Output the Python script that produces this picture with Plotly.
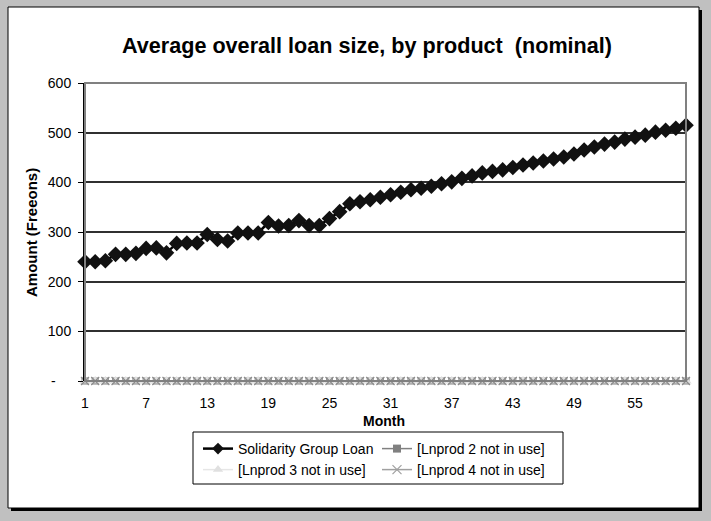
import plotly.graph_objects as go

# Month index and average loan size per product (Freeons)
months = list(range(1, 61))
solidarity_group_loan = [
    240, 240, 242, 255, 255, 257, 267, 268, 258, 277,
    278, 278, 295, 285, 282, 298, 298, 298, 319, 312,
    313, 323, 313, 313, 327, 341, 357, 361, 365, 370,
    375, 380, 385, 388, 392, 397, 401, 408, 413, 419,
    422, 425, 430, 435, 439, 443, 447, 451, 457, 465,
    471, 477, 481, 487, 491, 495, 501, 505, 509, 515,
]
lnprod_2 = [0] * 60
lnprod_3 = [0] * 60
lnprod_4 = [0] * 60

series_names = [
    "Solidarity Group Loan",
    "[Lnprod 2 not in use]",
    "[Lnprod 3 not in use]",
    "[Lnprod 4 not in use]",
]
x_tick_vals = [1, 7, 13, 19, 25, 31, 37, 43, 49, 55]
y_tick_vals = [0, 100, 200, 300, 400, 500, 600]
NB = "\u00a0"
y_tick_text = ["-" + NB * 4, "100", "200", "300", "400", "500", "600"]

W, H = 711, 521
L, R, T, B = 85, 25, 83, 140
PW, PH = W - L - R, H - T - B


def px_x(p):
    return (p - L) / PW


def px_y(p):
    return (H - B - p) / PH


FONT = "Liberation Sans, Arial, sans-serif"

styles = [
    dict(line=dict(color="#000000", width=2.5),
         marker=dict(symbol="diamond", size=12, color="#111111")),
    dict(line=dict(color="#808080", width=1.5),
         marker=dict(symbol="square", size=7, color="#808080")),
    dict(line=dict(color="#e6e6e6", width=1.5),
         marker=dict(symbol="triangle-up", size=10, color="#e0e0e0")),
    dict(line=dict(color="#a0a0a0", width=1.5),
         marker=dict(symbol="x-thin", size=8, color="#8c8c8c",
                     line=dict(color="#8c8c8c", width=1.2))),
]
legend_markers = [
    dict(symbol="diamond", size=9, color="#111111"),
    dict(symbol="square", size=8, color="#808080"),
    dict(symbol="triangle-up", size=9, color="#e0e0e0"),
    dict(symbol="x-thin", size=9, color="#a0a0a0",
         line=dict(color="#a0a0a0", width=1.2)),
]
series_values = [solidarity_group_loan, lnprod_2, lnprod_3, lnprod_4]

fig = go.Figure()

for name, vals, st in zip(series_names, series_values, styles):
    fig.add_trace(go.Scatter(
        x=months, y=vals, name=name, mode="lines+markers",
        cliponaxis=False, showlegend=False, **st,
    ))

# legend entries: two rows of two
for i, (name, st, mk) in enumerate(zip(series_names, styles, legend_markers)):
    fig.add_trace(go.Scatter(
        x=[None], y=[None], name=name, mode="lines+markers",
        line=st["line"], marker=mk,
        legend="legend" if i < 2 else "legend2",
    ))

shapes = [
    # white chart sheet on grey frame, with drop shadow
    dict(type="rect", xref="paper", yref="paper", layer="below",
         x0=px_x(11), x1=px_x(702), y0=px_y(511), y1=px_y(10),
         fillcolor="#000000", line=dict(width=0)),
    dict(type="rect", xref="paper", yref="paper", layer="below",
         x0=px_x(8), x1=px_x(699), y0=px_y(508), y1=px_y(7),
         fillcolor="#ffffff", line=dict(color="#000000", width=1)),
    # plot area border
    dict(type="rect", xref="paper", yref="paper", layer="above",
         x0=0, x1=1, y0=0, y1=1,
         fillcolor="rgba(0,0,0,0)", line=dict(color="#808080", width=2)),
    # legend box
    dict(type="rect", xref="paper", yref="paper", layer="below",
         x0=px_x(193), x1=px_x(563), y0=px_y(484), y1=px_y(432),
         fillcolor="#ffffff", line=dict(color="#000000", width=1)),
]

annotations = [
    dict(text="<b>Average overall loan size, by product  (nominal)</b>",
         xref="paper", yref="paper", x=px_x(367), y=px_y(45),
         xanchor="center", yanchor="middle", showarrow=False,
         font=dict(family=FONT, size=21.6, color="#000000")),
    dict(text="<b>Month</b>", xref="paper", yref="paper",
         x=px_x(384), y=px_y(421), xanchor="center", yanchor="middle",
         showarrow=False, font=dict(family=FONT, size=14, color="#000000")),
    dict(text="<b>Amount (Freeons)</b>", xref="paper", yref="paper",
         x=px_x(31), y=px_y(233), xanchor="center", yanchor="middle",
         textangle=-90, showarrow=False,
         font=dict(family=FONT, size=15, color="#000000")),
]

legend_common = dict(
    orientation="h", xanchor="left", yanchor="top",
    bgcolor="rgba(0,0,0,0)", borderwidth=0,
    entrywidth=134, entrywidthmode="pixels",
    font=dict(family=FONT, size=14, color="#000000"),
    itemwidth=30,
)

fig.update_layout(
    width=W, height=H,
    margin=dict(l=L, r=R, t=T, b=B),
    paper_bgcolor="#c0c0c0",
    plot_bgcolor="#c0c0c0",
    font=dict(family=FONT, size=14, color="#000000"),
    shapes=shapes,
    annotations=annotations,
    legend=dict(x=px_x(198), y=px_y(433), **legend_common),
    legend2=dict(x=px_x(198), y=px_y(454), **legend_common),
)

fig.update_xaxes(
    range=[1, 60], tickmode="array", tickvals=x_tick_vals,
    showgrid=False, zeroline=False, showline=False,
    ticks="", ticklabelstandoff=12,
    tickfont=dict(family=FONT, size=14, color="#000000"),
)
fig.update_yaxes(
    range=[0, 600], tickmode="array", tickvals=y_tick_vals,
    ticktext=y_tick_text,
    showgrid=True, gridcolor="#303030", gridwidth=1.5,
    zeroline=False, showline=True, linecolor="#000000", linewidth=2,
    ticks="outside", ticklen=5, tickcolor="#000000",
    ticklabelstandoff=4,
    tickfont=dict(family=FONT, size=14, color="#000000"),
)

fig.write_html("out.html")
